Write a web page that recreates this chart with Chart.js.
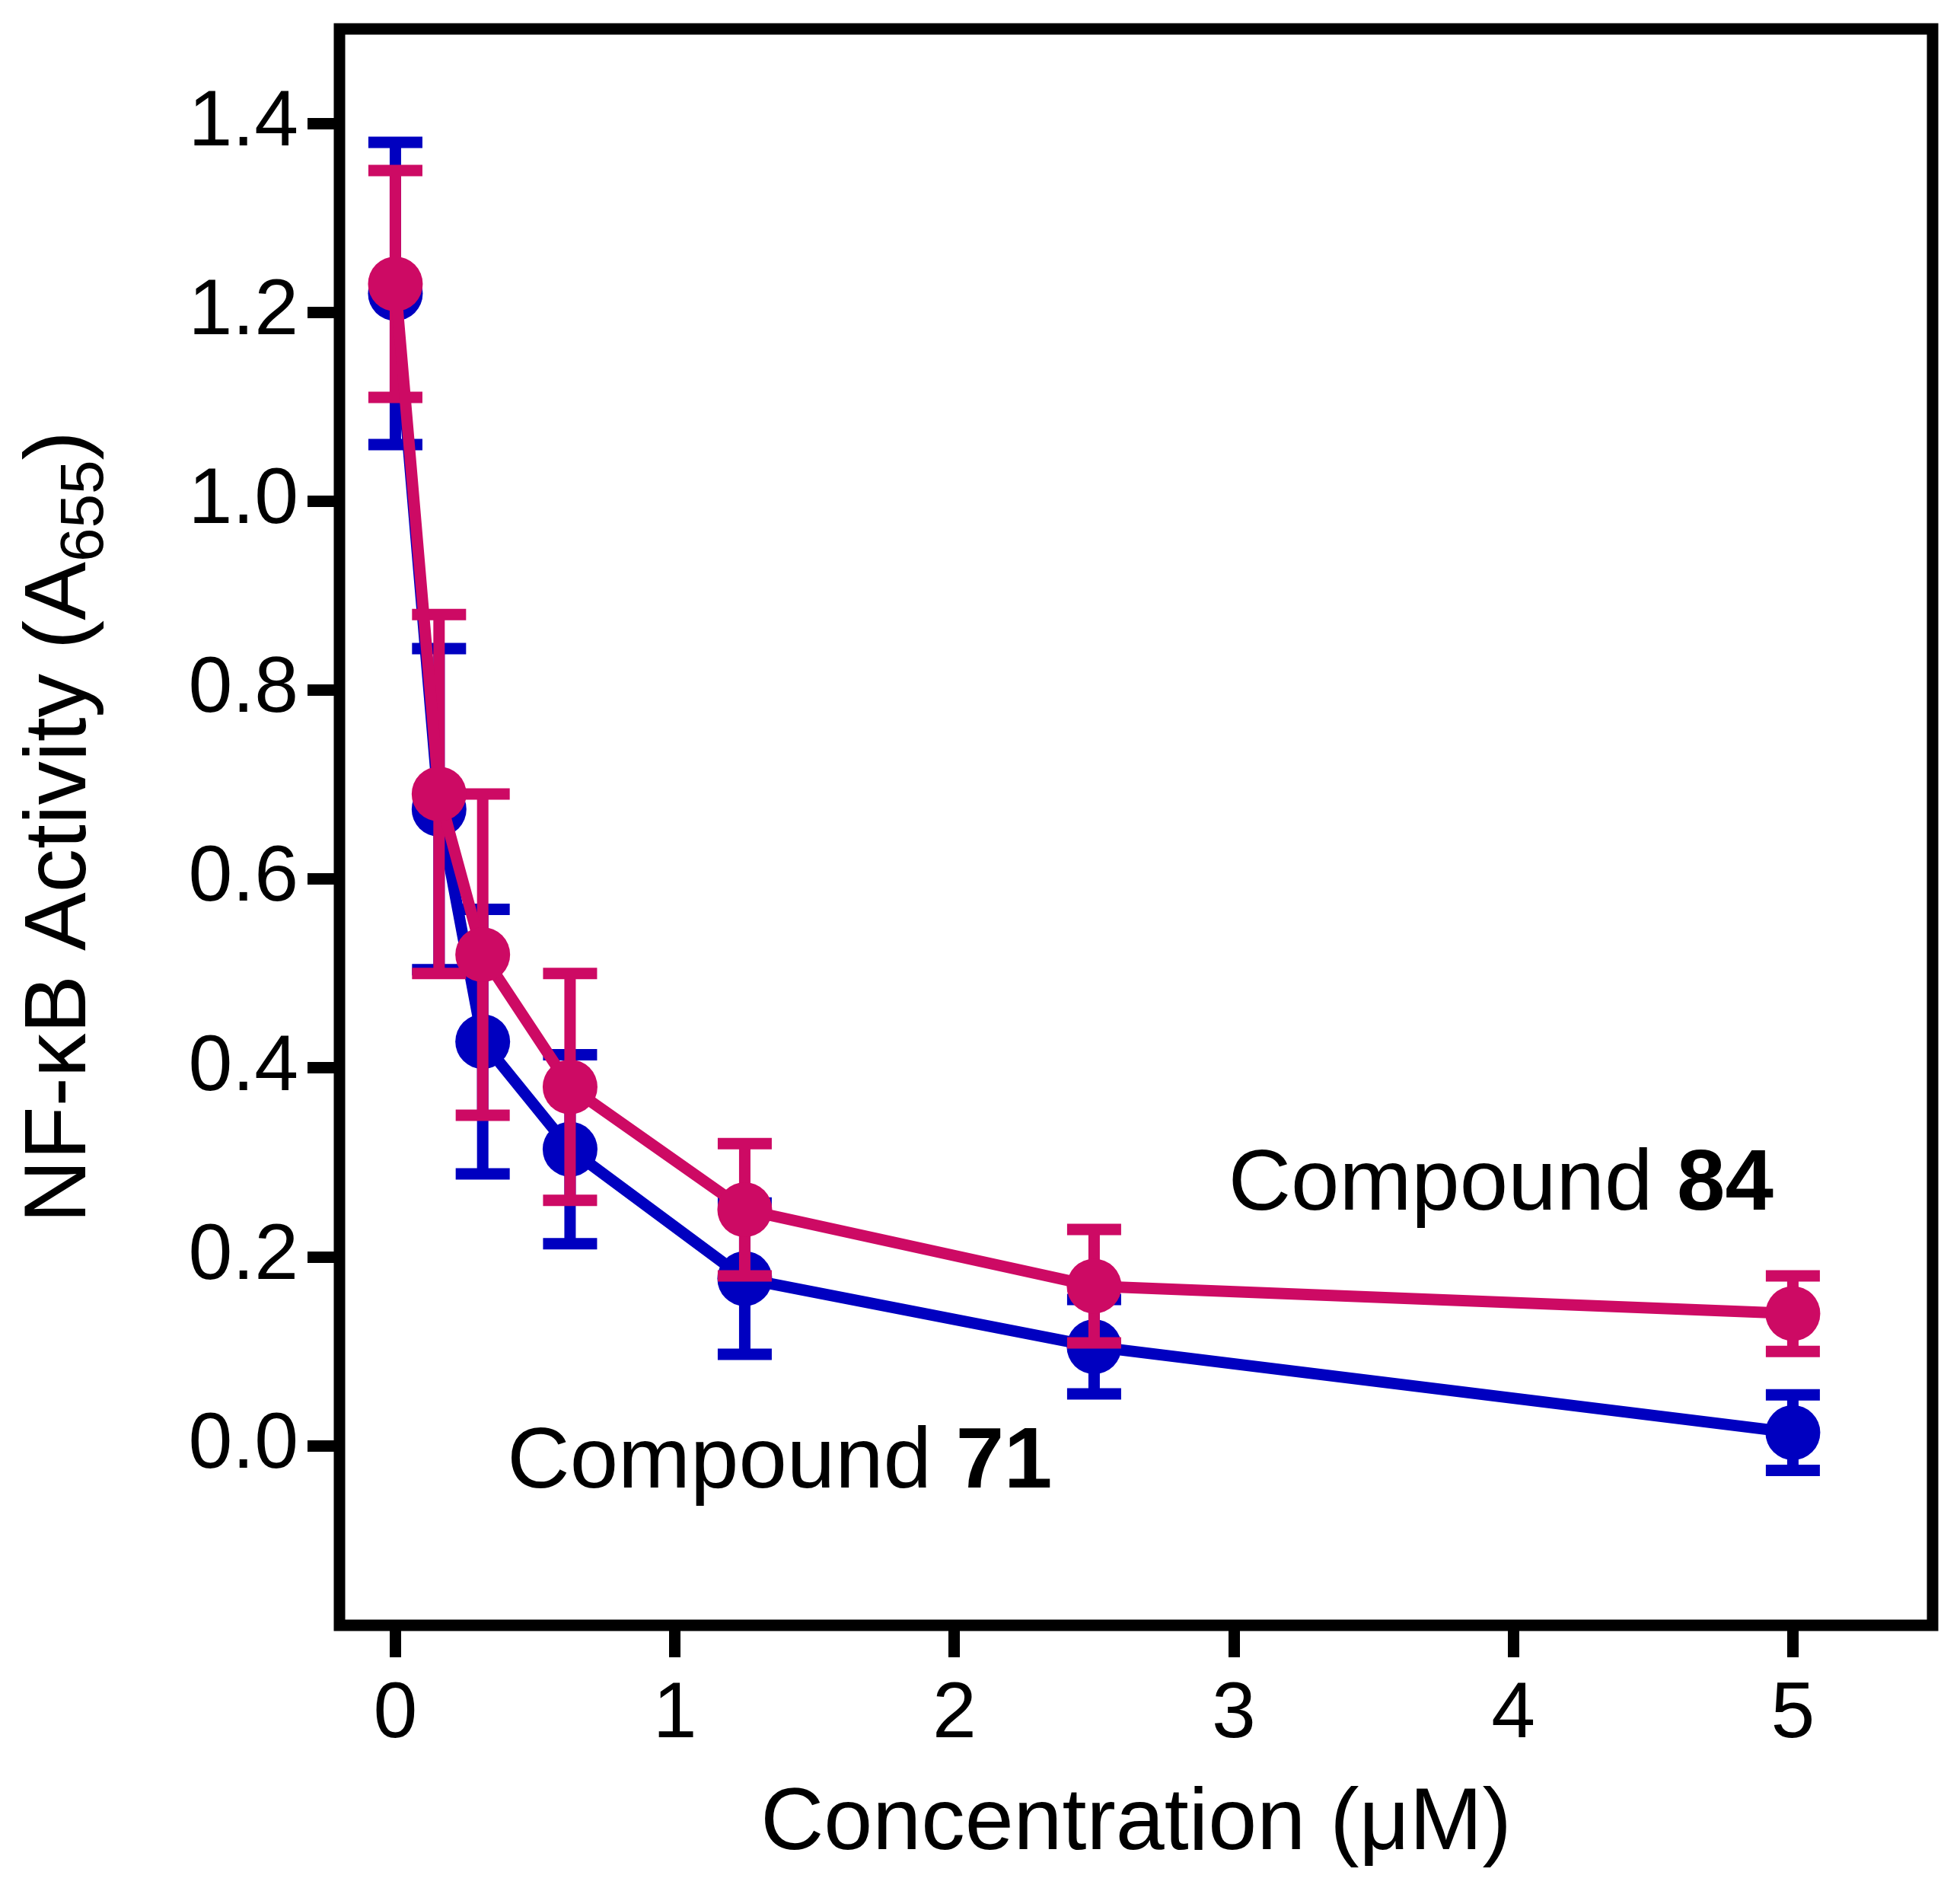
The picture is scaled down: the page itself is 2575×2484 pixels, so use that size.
<!DOCTYPE html>
<html>
<head>
<meta charset="utf-8">
<script src="https://cdn.jsdelivr.net/npm/chart.js@4.4.1/dist/chart.umd.min.js"></script>
<style>
  html, body { margin: 0; padding: 0; background: #fff; }
  canvas { display: block; }
</style>
</head>
<body>
<canvas id="myChart" width="2575" height="2484"></canvas>
<script>
// concentration (uM), 2-fold dilution series
const concentrations = [0, 0.15625, 0.3125, 0.625, 1.25, 2.5, 5];
// compound 71 (blue): mean and error
const compound71Mean = [1.22, 0.674, 0.428, 0.314, 0.177, 0.105, 0.014];
const compound71Err = [0.16, 0.17, 0.14, 0.10, 0.08, 0.05, 0.04];
// compound 84 (pink): mean and error
const compound84Mean = [1.23, 0.69, 0.52, 0.38, 0.25, 0.169, 0.14];
const compound84Err = [0.12, 0.19, 0.17, 0.12, 0.07, 0.06, 0.04];
// tick values
const xTicks = [0, 1, 2, 3, 4, 5];
const yTicks = [0, 0.2, 0.4, 0.6, 0.8, 1.0, 1.2, 1.4];
// text labels placed in data coordinates
const noteLabels = [
    { text: "Compound ", bold: "84", x: 2.98, y: 0.25 },
    { text: "Compound ", bold: "71", x: 0.40, y: -0.044 },
];

const BLUE = "#0000C0";
const PINK = "#CD0A64";
const FONT = '"Liberation Sans", Arial, Helvetica, sans-serif';

Chart.defaults.font.family = FONT;
Chart.defaults.color = "#000";

const ctx = document.getElementById("myChart").getContext("2d");

function toPoints(xs, ys) {
    return xs.map((x, i) => ({ x: x, y: ys[i] }));
}

// error bars, drawn right before each dataset so they sit under its own line and markers
const errorBars = {
    id: "errorBars",
    beforeDatasetDraw(chart, args) {
        const ds = chart.data.datasets[args.index];
        if (!ds.errors) return;
        const c = chart.ctx;
        const xs = chart.scales.x;
        const ys = chart.scales.y;
        c.save();
        c.strokeStyle = ds.borderColor;
        c.lineWidth = 15;
        c.lineCap = "butt";
        ds.data.forEach((p, i) => {
            const px = xs.getPixelForValue(p.x);
            const top = ys.getPixelForValue(p.y + ds.errors[i]);
            const bot = ys.getPixelForValue(p.y - ds.errors[i]);
            c.beginPath();
            c.moveTo(px, top);
            c.lineTo(px, bot);
            c.moveTo(px - 35.5, top);
            c.lineTo(px + 35.5, top);
            c.moveTo(px - 35.5, bot);
            c.lineTo(px + 35.5, bot);
            c.stroke();
        });
        c.restore();
    },
};

// black box round the plot area
const frame = {
    id: "frame",
    beforeDatasetsDraw(chart) {
        const a = chart.chartArea;
        const c = chart.ctx;
        c.save();
        c.strokeStyle = "#000";
        c.lineWidth = 15;
        c.strokeRect(a.left, a.top, a.right - a.left, a.bottom - a.top);
        c.restore();
    },
};

// "Compound 84" / "Compound 71" labels with bold numbers
const notes = {
    id: "notes",
    afterDatasetsDraw(chart) {
        const c = chart.ctx;
        const xs = chart.scales.x;
        const ys = chart.scales.y;
        c.save();
        c.fillStyle = "#000";
        c.textAlign = "left";
        c.textBaseline = "alphabetic";
        noteLabels.forEach((n) => {
            let px = xs.getPixelForValue(n.x);
            const py = ys.getPixelForValue(n.y);
            c.font = "114px " + FONT;
            c.fillText(n.text, px, py);
            px += c.measureText(n.text).width;
            c.font = "bold 114px " + FONT;
            c.fillText(n.bold, px, py);
        });
        c.restore();
    },
};

// y axis title with subscript 655
const yTitle = {
    id: "yTitle",
    afterDraw(chart) {
        const c = chart.ctx;
        const main = "NF-\u03BAB Activity (A";
        const sub = "655";
        const close = ")";
        c.save();
        c.fillStyle = "#000";
        c.textAlign = "left";
        c.textBaseline = "alphabetic";
        c.font = "115px " + FONT;
        const w1 = c.measureText(main).width;
        const w3 = c.measureText(close).width;
        c.font = "80px " + FONT;
        const w2 = c.measureText(sub).width;
        const cy = (chart.chartArea.top + chart.chartArea.bottom) / 2;
        c.translate(112, cy);
        c.rotate(-Math.PI / 2);
        let x = -(w1 + w2 + w3) / 2;
        c.font = "115px " + FONT;
        c.fillText(main, x, 0);
        x += w1;
        c.font = "80px " + FONT;
        c.fillText(sub, x, 23);
        x += w2;
        c.font = "115px " + FONT;
        c.fillText(close, x, 0);
        c.restore();
    },
};

const myChart = new Chart(ctx, {
    type: "scatter",
    data: {
        datasets: [
            {
                label: "Compound 84",
                data: toPoints(concentrations, compound84Mean),
                errors: compound84Err,
                borderColor: PINK,
                backgroundColor: PINK,
                borderWidth: 15,
                showLine: true,
                pointRadius: 36,
                pointHoverRadius: 36,
                pointBorderWidth: 0,
                order: 1,
            },
            {
                label: "Compound 71",
                data: toPoints(concentrations, compound71Mean),
                errors: compound71Err,
                borderColor: BLUE,
                backgroundColor: BLUE,
                borderWidth: 15,
                showLine: true,
                pointRadius: 36,
                pointHoverRadius: 36,
                pointBorderWidth: 0,
                order: 2,
            },
        ],
    },
    options: {
        responsive: false,
        devicePixelRatio: 1,
        animation: false,
        layout: { padding: { top: 38, right: 32, left: 0, bottom: 0 } },
        plugins: {
            legend: { display: false },
            tooltip: { enabled: false },
        },
        scales: {
            x: {
                type: "linear",
                min: -0.2,
                max: 5.5,
                afterFit: (s) => {
                    s.height = 349;
                    s.paddingLeft = 0;
                    s.paddingRight = 0;
                },
                afterBuildTicks: (s) => { s.ticks = xTicks.map((v) => ({ value: v })); },
                border: { display: false },
                grid: { drawOnChartArea: false, drawTicks: true, tickLength: 42, tickWidth: 15, tickColor: "#000" },
                ticks: {
                    color: "#000",
                    font: { size: 104 },
                    padding: 14,
                    maxRotation: 0,
                    autoSkip: false,
                    callback: (v) => String(v),
                },
                title: {
                    display: true,
                    text: "Concentration (\u03BCM)",
                    color: "#000",
                    font: { size: 115 },
                    padding: { top: 0, bottom: 18 },
                },
            },
            y: {
                type: "linear",
                min: -0.19,
                max: 1.5,
                afterFit: (s) => {
                    s.width = 446;
                    // tick labels stay well inside the frame, no extra room needed
                    s.paddingTop = 0;
                    s.paddingBottom = 0;
                },
                afterBuildTicks: (s) => { s.ticks = yTicks.map((v) => ({ value: v })); },
                border: { display: false },
                grid: { drawOnChartArea: false, drawTicks: true, tickLength: 42, tickWidth: 15, tickColor: "#000" },
                ticks: {
                    color: "#000",
                    font: { size: 104 },
                    padding: 12,
                    autoSkip: false,
                    callback: (v) => v.toFixed(1),
                },
            },
        },
    },
    plugins: [frame, errorBars, notes, yTitle],
});
</script>
</body>
</html>
